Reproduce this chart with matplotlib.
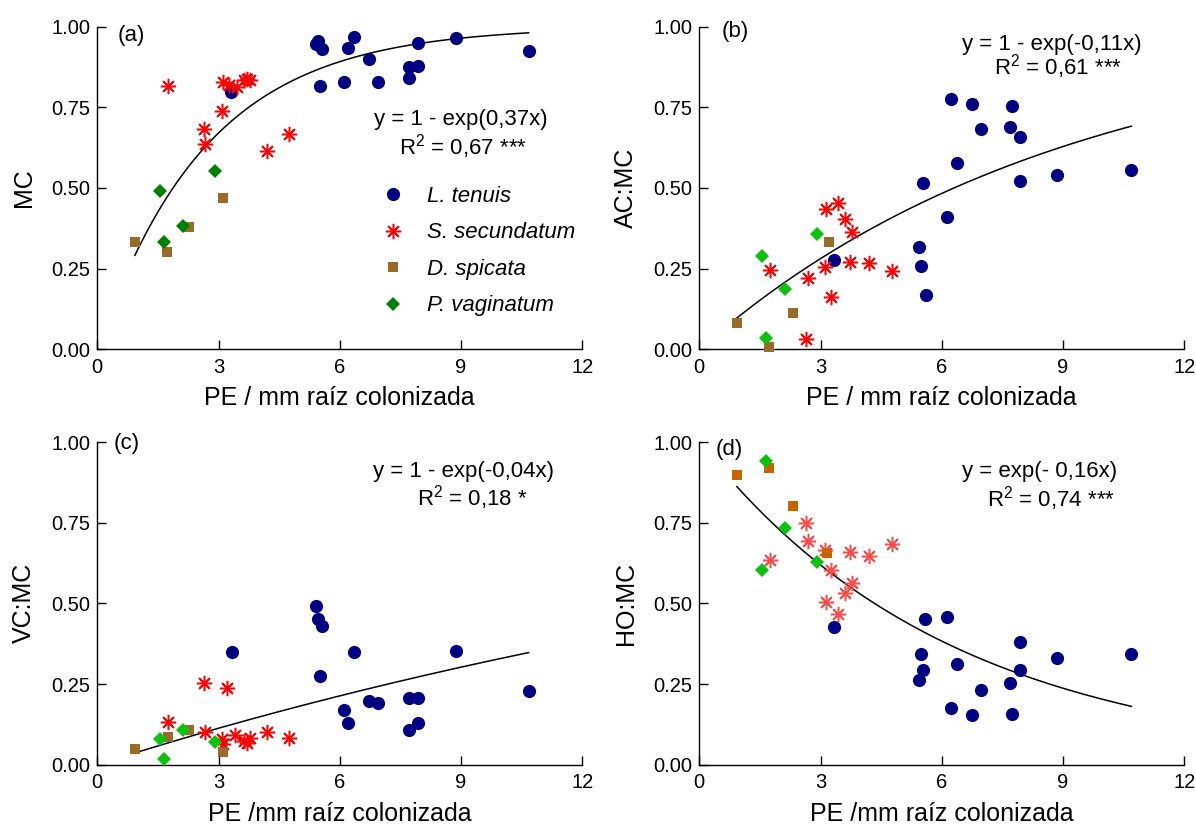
import numpy as np
import matplotlib
matplotlib.use('Agg')
import matplotlib.pyplot as plt
import matplotlib.ticker as ticker

plt.rcParams['font.family'] = ['Liberation Sans', 'DejaVu Sans']
plt.rcParams['mathtext.fontset'] = 'custom'
plt.rcParams['mathtext.rm'] = 'Liberation Sans'

# (x, y) pairs per panel: x = PE / mm colonized root
# (a) MC
a_tenuis = [(5.41, 0.945), (5.47, 0.955), (5.56, 0.93), (5.51, 0.817), (6.35, 0.967),
            (6.21, 0.933), (6.11, 0.827), (6.73, 0.899), (6.94, 0.827), (7.71, 0.874),
            (7.93, 0.878), (7.71, 0.84), (7.94, 0.95), (8.87, 0.964), (10.67, 0.925),
            (3.31, 0.797)]
a_secund = [(1.74, 0.816), (2.63, 0.682), (2.67, 0.636), (3.08, 0.739), (3.12, 0.827),
            (3.25, 0.82), (3.46, 0.812), (3.62, 0.835), (3.70, 0.838), (3.79, 0.835),
            (4.20, 0.613), (4.75, 0.667)]
a_spicata = [(0.93, 0.334), (1.73, 0.303), (2.28, 0.378), (3.12, 0.47)]
a_vagin = [(1.55, 0.49), (1.64, 0.334), (2.11, 0.382), (2.90, 0.553)]

# (b) AC:MC
b_tenuis = [(6.23, 0.775), (6.74, 0.759), (7.73, 0.753), (6.98, 0.682), (7.69, 0.688),
            (7.93, 0.657), (6.38, 0.576), (5.54, 0.514), (7.94, 0.520), (8.85, 0.539),
            (10.69, 0.555), (6.13, 0.409), (5.44, 0.316), (5.49, 0.257), (5.60, 0.167),
            (3.34, 0.277)]
b_secund = [(1.75, 0.246), (2.68, 0.22), (2.63, 0.031), (3.11, 0.256), (3.13, 0.435),
            (3.26, 0.161), (3.43, 0.452), (3.61, 0.403), (3.79, 0.362), (3.72, 0.270),
            (4.21, 0.267), (4.77, 0.243)]
b_spicata = [(0.93, 0.081), (1.72, 0.008), (2.32, 0.112), (3.21, 0.334)]
b_vagin = [(1.56, 0.29), (1.65, 0.036), (2.12, 0.186), (2.91, 0.356)]

# (c) VC:MC
c_tenuis = [(5.41, 0.492), (5.47, 0.450), (5.56, 0.431), (3.33, 0.348), (6.35, 0.348),
            (8.87, 0.352), (5.51, 0.276), (10.67, 0.228), (6.73, 0.197), (6.94, 0.190),
            (7.71, 0.206), (7.94, 0.206), (6.11, 0.171), (6.21, 0.128), (7.93, 0.128),
            (7.71, 0.107)]
c_secund = [(2.63, 0.254), (3.22, 0.239), (1.74, 0.131), (2.66, 0.102), (3.08, 0.079),
            (3.12, 0.064), (3.41, 0.092), (3.62, 0.074), (3.70, 0.066), (3.79, 0.082),
            (4.20, 0.102), (4.75, 0.082)]
c_spicata = [(0.93, 0.048), (1.74, 0.085), (2.28, 0.107), (3.12, 0.040)]
c_vagin = [(1.55, 0.080), (1.64, 0.018), (2.11, 0.107), (2.90, 0.071)]

# (d) HO:MC
d_tenuis = [(5.59, 0.452), (6.13, 0.459), (3.34, 0.428), (7.94, 0.379), (5.49, 0.342),
            (10.69, 0.342), (8.85, 0.330), (6.38, 0.311), (5.54, 0.292), (7.93, 0.292),
            (5.44, 0.262), (7.69, 0.252), (6.98, 0.233), (6.23, 0.175), (6.74, 0.153),
            (7.73, 0.156)]
d_secund = [(2.64, 0.748), (2.68, 0.693), (3.11, 0.665), (1.75, 0.634), (3.26, 0.603),
            (3.72, 0.658), (4.21, 0.648), (4.77, 0.684), (3.79, 0.562), (3.61, 0.531),
            (3.14, 0.505), (3.43, 0.466)]
d_spicata = [(0.93, 0.899), (1.72, 0.919), (2.31, 0.802), (3.17, 0.657)]
d_vagin = [(1.56, 0.603), (1.65, 0.940), (2.12, 0.732), (2.91, 0.629)]

# fitted coefficients k, fit range
k_fit = [0.37, 0.11, 0.04, 0.16]
fit_range = [(0.93, 10.67), (0.93, 10.69), (0.93, 10.67), (0.93, 10.69)]

eq_line1 = ['y = 1 - exp(0,37x)', 'y = 1 - exp(-0,11x)', 'y = 1 - exp(-0,04x)', 'y = exp(- 0,16x)']
eq_line2 = ['R$^{2}$ = 0,67 ***', 'R$^{2}$ = 0,61 ***', 'R$^{2}$ = 0,18 *', 'R$^{2}$ = 0,74 ***']
panel_tags = ['(a)', '(b)', '(c)', '(d)']
ylabels = ['MC', 'AC:MC', 'VC:MC', 'HO:MC']
xlabels = ['PE / mm raíz colonizada', 'PE / mm raíz colonizada',
           'PE /mm raíz colonizada', 'PE /mm raíz colonizada']
species = ['L. tenuis', 'S. secundatum', 'D. spicata', 'P. vaginatum']

fig = plt.figure(figsize=(11.96, 8.27), dpi=100)
W, H = 1196, 827
rects = [[97.3 / W, 1 - 349.3 / H, 485 / W, 322.7 / H],
         [699.3 / W, 1 - 349.3 / H, 485 / W, 322.7 / H],
         [97.3 / W, 1 - 764.7 / H, 485 / W, 322.7 / H],
         [699.3 / W, 1 - 764.7 / H, 485 / W, 322.7 / H]]

data = [(a_tenuis, a_secund, a_spicata, a_vagin),
        (b_tenuis, b_secund, b_spicata, b_vagin),
        (c_tenuis, c_secund, c_spicata, c_vagin),
        (d_tenuis, d_secund, d_spicata, d_vagin)]

red_c = ['#ff0000', '#ff0000', '#ff0000', '#ff4a4a']
brown_c = ['#9a6a2a', '#9a6a2a', '#9a6a2a', '#c86400']
green_c = ['#008000', '#10c010', '#10c010', '#10c010']

eq1_pos = [(8.99, 0.712), (8.71, 0.945), (9.06, 0.910), (8.41, 0.910)]
eq2_pos = [(9.06, 0.627), (8.87, 0.876), (9.27, 0.829), (8.71, 0.826)]
tag_pos = [(0.5, 0.973), (0.55, 0.984), (0.41, 0.994), (0.41, 0.978)]

for i in range(4):
    ax = fig.add_axes(rects[i])
    ten, sec, spi, vag = data[i]

    h1, = ax.plot(*zip(*ten), 'o', color='#000080', ms=9.5, mew=0, clip_on=False, zorder=3)
    h2, = ax.plot(*zip(*sec), marker=(8, 2, 0), ls='none', color=red_c[i], ms=11,
                  mew=1.1, clip_on=False, zorder=3)
    h3, = ax.plot(*zip(*spi), 's', color=brown_c[i], ms=7.5, mew=0, clip_on=False, zorder=3)
    h4, = ax.plot(*zip(*vag), 'D', color=green_c[i], ms=7.3, mew=0, clip_on=False, zorder=3)

    xf = np.linspace(fit_range[i][0], fit_range[i][1], 200)
    if i < 3:
        yf = 1 - np.exp(-k_fit[i] * xf)
    else:
        yf = np.exp(-k_fit[i] * xf)
    ax.plot(xf, yf, 'k-', lw=1.1, zorder=2)

    ax.set_xlim(0, 12)
    ax.set_ylim(0, 1)
    ax.xaxis.set_major_locator(ticker.MultipleLocator(3))
    ax.yaxis.set_major_locator(ticker.MultipleLocator(0.25))
    ax.yaxis.set_major_formatter(ticker.FormatStrFormatter('%.2f'))
    ax.spines['top'].set_visible(False)
    ax.spines['right'].set_visible(False)
    for s in ['left', 'bottom']:
        ax.spines[s].set_linewidth(1.0)
    ax.tick_params(direction='in', length=6.5, width=1.0, labelsize=14.5)
    ax.tick_params(axis='x', pad=6)
    ax.tick_params(axis='y', pad=5)

    ax.set_xlabel(xlabels[i], fontsize=18, labelpad=7)
    ax.set_ylabel(ylabels[i], fontsize=18, labelpad=11)

    ax.text(*tag_pos[i], panel_tags[i], fontsize=16, ha='left', va='center')
    ax.text(*eq1_pos[i], eq_line1[i], fontsize=16, ha='center', va='center')
    ax.text(*eq2_pos[i], eq_line2[i], fontsize=16, ha='center', va='center')

    if i == 0:
        ax.legend([h1, h2, h3, h4], species, loc='upper left',
                  bbox_to_anchor=(0.563, 0.541), frameon=False, borderpad=0,
                  handlelength=1.0, handletextpad=1.05, labelspacing=0.7,
                  prop={'style': 'italic', 'size': 16})

fig.savefig('out.png', dpi=100)
